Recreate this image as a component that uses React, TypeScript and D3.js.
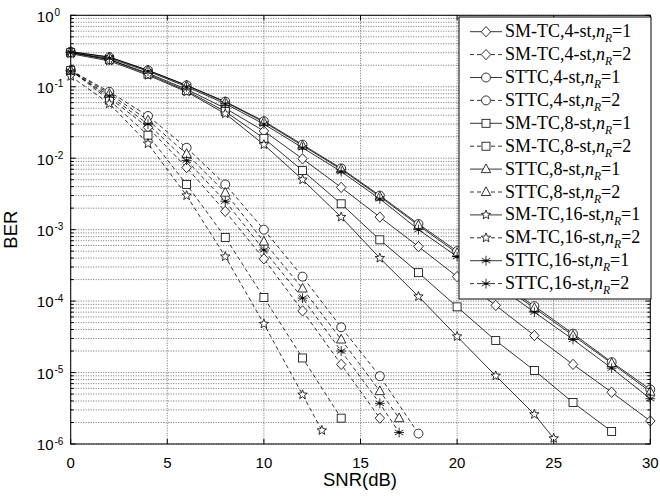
import React from 'react';
import * as d3 from 'd3';

// ---------- data ----------
const snrN1 = [0, 2, 4, 6, 8, 10, 12, 14, 16, 18, 20, 22, 24, 26, 28, 30];

const smtc4N1 = [0.30, 0.24, 0.155, 0.092, 0.050, 0.024, 0.0098, 0.0039, 0.0015, 0.00058, 0.00022, 8.7e-5, 3.3e-5, 1.3e-5, 5.3e-6, 2.1e-6];
const sttc4N1 = [0.31, 0.26, 0.17, 0.105, 0.062, 0.033, 0.0155, 0.0072, 0.0030, 0.0012, 0.00050, 0.00020, 8.5e-5, 3.5e-5, 1.4e-5, 5.8e-6];
const smtc8N1 = [0.30, 0.24, 0.15, 0.088, 0.045, 0.019, 0.0067, 0.0023, 0.00072, 0.00025, 8.3e-5, 2.8e-5, 1.07e-5, 3.8e-6, 1.5e-6];
const sttc8N1 = [0.31, 0.26, 0.17, 0.104, 0.061, 0.032, 0.015, 0.0070, 0.0029, 0.00115, 0.00047, 0.00019, 8.0e-5, 3.3e-5, 1.35e-5, 5.4e-6];
const smtc16N1Snr = [0, 2, 4, 6, 8, 10, 12, 14, 16, 18, 20, 22, 24, 25];
const smtc16N1 = [0.29, 0.23, 0.145, 0.085, 0.042, 0.0155, 0.0050, 0.0015, 0.00040, 0.000116, 3.2e-5, 9.0e-6, 2.6e-6, 1.2e-6];
const sttc16N1 = [0.30, 0.25, 0.165, 0.10, 0.058, 0.030, 0.014, 0.0065, 0.0027, 0.0010, 0.00042, 0.00017, 7.0e-5, 2.9e-5, 1.15e-5, 4.3e-6];

const smtc4N2Snr = [0, 2, 4, 6, 8, 10, 12, 14, 16];
const smtc4N2 = [0.17, 0.070, 0.027, 0.0074, 0.0018, 0.00039, 7.3e-5, 1.3e-5, 2.3e-6];
const sttc4N2Snr = [0, 2, 4, 6, 8, 10, 12, 14, 16, 18];
const sttc4N2 = [0.17, 0.085, 0.039, 0.014, 0.0043, 0.0010, 0.00022, 4.3e-5, 8.9e-6, 1.4e-6];
const smtc8N2Snr = [0, 2, 4, 6, 8, 10, 12, 14];
const smtc8N2 = [0.17, 0.065, 0.021, 0.0043, 0.00078, 0.000112, 1.6e-5, 2.3e-6];
const sttc8N2Snr = [0, 2, 4, 6, 8, 10, 12, 14, 16, 17];
const sttc8N2 = [0.17, 0.080, 0.034, 0.0115, 0.0033, 0.00068, 0.00015, 2.9e-5, 5.5e-6, 2.3e-6];
const smtc16N2Snr = [0, 2, 4, 6, 8, 10, 12, 13];
const smtc16N2 = [0.14, 0.058, 0.016, 0.0030, 0.00042, 4.8e-5, 4.9e-6, 1.55e-6];
const sttc16N2Snr = [0, 2, 4, 6, 8, 10, 12, 14, 16, 17];
const sttc16N2 = [0.165, 0.075, 0.030, 0.0093, 0.0025, 0.00052, 0.00011, 2.0e-5, 3.7e-6, 1.45e-6];

const seriesNames = [
  'SM-TC,4-st,', 'SM-TC,4-st,', 'STTC,4-st,', 'STTC,4-st,',
  'SM-TC,8-st,', 'SM-TC,8-st,', 'STTC,8-st,', 'STTC,8-st,',
  'SM-TC,16-st,', 'SM-TC,16-st,', 'STTC,16-st,', 'STTC,16-st,',
];
const seriesNr = ['1', '2', '1', '2', '1', '2', '1', '2', '1', '2', '1', '2'];
const seriesMarkers = ['diamond', 'diamond', 'circle', 'circle', 'square', 'square', 'triangle', 'triangle', 'star', 'star', 'asterisk', 'asterisk'];
const seriesX = [snrN1, smtc4N2Snr, snrN1, sttc4N2Snr, snrN1.slice(0, 15), smtc8N2Snr, snrN1, sttc8N2Snr, smtc16N1Snr, smtc16N2Snr, snrN1, sttc16N2Snr];
const seriesY = [smtc4N1, smtc4N2, sttc4N1, sttc4N2, smtc8N1, smtc8N2, sttc8N1, sttc8N2, smtc16N1, smtc16N2, sttc16N1, sttc16N2];

const xTicks = [0, 5, 10, 15, 20, 25, 30];
const yExps = [0, -1, -2, -3, -4, -5, -6];

// ---------- layout ----------
const W = 660, H = 496;
const L = 70.7, R = 650.3, T = 15.3, B = 444;

function Marker({ type, x, y }: { type: string; x: number; y: number }) {
  const s = 4.7;
  const common = { fill: '#fff', stroke: '#000', strokeWidth: 0.8 };
  if (type === 'diamond') return <path d={`M${x},${y - s * 1.1}L${x + s},${y}L${x},${y + s * 1.1}L${x - s},${y}Z`} {...common} />;
  if (type === 'circle') return <circle cx={x} cy={y} r={s * 0.95} {...common} />;
  if (type === 'square') return <rect x={x - s * 0.85} y={y - s * 0.85} width={s * 1.7} height={s * 1.7} {...common} />;
  if (type === 'triangle') return <path d={`M${x},${y - s * 1.1}L${x + s},${y + s * 0.75}L${x - s},${y + s * 0.75}Z`} {...common} />;
  if (type === 'star') {
    const pts: string[] = [];
    for (let i = 0; i < 10; i++) {
      const r = i % 2 === 0 ? s * 1.05 : s * 0.45;
      const a = -Math.PI / 2 + (i * Math.PI) / 5;
      pts.push(`${x + r * Math.cos(a)},${y + r * Math.sin(a)}`);
    }
    return <path d={`M${pts.join('L')}Z`} {...common} />;
  }
  // asterisk
  const a = s * 1.05;
  const c = Math.cos(Math.PI / 6) * a, sn = Math.sin(Math.PI / 6) * a;
  return (
    <g stroke="#000" strokeWidth={0.8}>
      <line x1={x} y1={y - a} x2={x} y2={y + a} />
      <line x1={x - c} y1={y - sn} x2={x + c} y2={y + sn} />
      <line x1={x - c} y1={y + sn} x2={x + c} y2={y - sn} />
      <line x1={x - a} y1={y} x2={x + a} y2={y} />
      <circle cx={x} cy={y} r={1.2} fill="#000" stroke="none" />
    </g>
  );
}

export default function App() {
  const x = d3.scaleLinear().domain([0, 30]).range([L, R]);
  const y = d3.scaleLog().domain([1e-6, 1]).range([B, T]);

  const minorVals: number[] = [];
  for (let e = -6; e < 0; e++) for (let m = 1; m <= 9; m++) minorVals.push(m * Math.pow(10, e));
  minorVals.push(1);

  const line = d3.line<[number, number]>().x(d => x(d[0])).y(d => y(d[1]));
  const gridStyle = { stroke: '#333', strokeWidth: 0.7, strokeDasharray: '1,1.5' };

  const legX = 459, legY = 17, legW = 192, legH = 282;
  const rowY0 = 31.7, rowStep = 22.9;

  return (
    <svg width={W} height={H} style={{ position: 'absolute', left: 0, top: 0, background: '#fff' }}>
      <rect x={0} y={0} width={W} height={H} fill="#fff" />
      {/* grid */}
      <g>
        {minorVals.map((v, i) => (
          <line key={'gy' + i} x1={L} x2={R} y1={y(v)} y2={y(v)} {...gridStyle} />
        ))}
        {xTicks.map(t => (
          <line key={'gx' + t} x1={x(t)} x2={x(t)} y1={T} y2={B} {...gridStyle} />
        ))}
      </g>
      {/* lines */}
      <g fill="none" stroke="#000" strokeWidth={0.8}>
        {seriesY.map((ys, i) => {
          const pts = ys.map((v, j) => [seriesX[i][j], v] as [number, number]);
          return <path key={'l' + i} d={line(pts) || ''} strokeDasharray={seriesNr[i] === '2' ? '4,3' : undefined} />;
        })}
      </g>
      {/* markers */}
      <g>
        {seriesY.map((ys, i) =>
          ys.map((v, j) => <Marker key={`m${i}-${j}`} type={seriesMarkers[i]} x={x(seriesX[i][j])} y={y(v)} />)
        )}
      </g>
      {/* axes box and ticks */}
      <g stroke="#000" strokeWidth={1}>
        <rect x={L} y={T} width={R - L} height={B - T} fill="none" />
        {xTicks.map(t => (
          <g key={'xt' + t}>
            <line x1={x(t)} x2={x(t)} y1={B} y2={B - 5} />
            <line x1={x(t)} x2={x(t)} y1={T} y2={T + 5} />
          </g>
        ))}
        {minorVals.map((v, i) => {
          const len = Math.abs(Math.log10(v) - Math.round(Math.log10(v))) < 1e-9 ? 5 : 3;
          return (
            <g key={'yt' + i}>
              <line x1={L} x2={L + len} y1={y(v)} y2={y(v)} />
              <line x1={R} x2={R - len} y1={y(v)} y2={y(v)} />
            </g>
          );
        })}
      </g>
      {/* tick labels */}
      <g fontFamily="'Liberation Sans', Arial, sans-serif" fill="#000">
        {xTicks.map(t => (
          <text key={'xl' + t} x={x(t)} y={467.5} fontSize={15} textAnchor="middle">{t}</text>
        ))}
        {yExps.map(e => (
          <g key={'yl' + e}>
            <text x={53.5} y={y(Math.pow(10, e)) + 6.3} fontSize={15} textAnchor="end">10</text>
            <text x={54.5} y={y(Math.pow(10, e)) + 0.5} fontSize={10} textAnchor="start">{e}</text>
          </g>
        ))}
        <text x={360} y={486} fontSize={18.5} textAnchor="middle">SNR(dB)</text>
        <text transform={`translate(17,${(T + B) / 2}) rotate(-90)`} fontSize={18.5} textAnchor="middle">BER</text>
      </g>
      {/* legend */}
      <g>
        <rect x={legX} y={legY} width={legW} height={legH} fill="#fff" stroke="#000" strokeWidth={1} />
        {seriesNames.map((name, i) => {
          const cy = rowY0 + i * rowStep;
          return (
            <g key={'lg' + i}>
              <line x1={470} x2={502} y1={cy} y2={cy} stroke="#000" strokeWidth={0.8}
                strokeDasharray={seriesNr[i] === '2' ? '4,3' : undefined} />
              <Marker type={seriesMarkers[i]} x={486} y={cy} />
              <text x={505} y={cy + 5.5} fontFamily="'Liberation Serif', 'Times New Roman', serif" fontSize={18} fill="#000">
                {name}
                <tspan fontStyle="italic">n</tspan>
                <tspan fontStyle="italic" fontSize={11.5} dy={5}>R</tspan>
                <tspan dy={-5}>={seriesNr[i]}</tspan>
              </text>
            </g>
          );
        })}
      </g>
    </svg>
  );
}
